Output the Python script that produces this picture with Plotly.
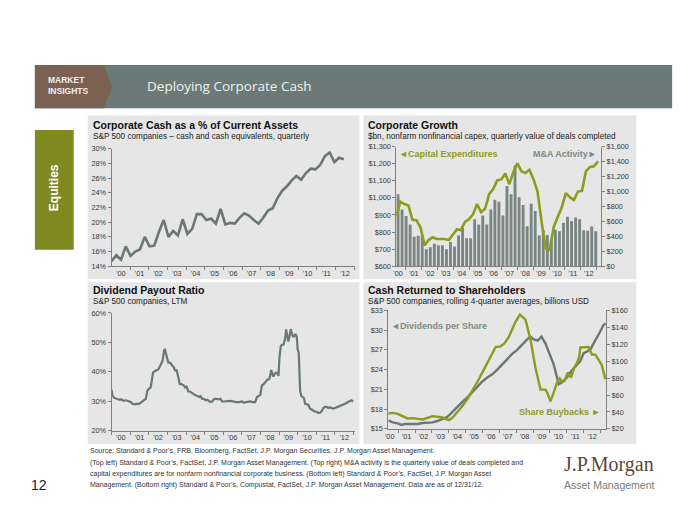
import plotly.graph_objects as go

# page has an 8px body margin: draw a 692x517 figure and map page pixels into it
OFF = 8
W, H = 700 - OFF, 525 - OFF
def px(x): return (x - OFF) / W
def py(y): return 1 - (y - OFF) / H

# ---------------- DATA ----------------
year_labels = ["'00", "'01", "'02", "'03", "'04", "'05", "'06", "'07", "'08", "'09", "'10", "'11", "'12"]

# Corporate cash as % of current assets (quarterly)
cash_pct = [14.7, 15.5, 14.9, 16.7, 15.4, 16.0, 16.3, 18.0, 16.7, 16.8,
            18.7, 20.3, 18.0, 18.8, 18.2, 20.4, 18.4, 19.1, 21.1, 21.1,
            20.3, 20.5, 19.8, 21.8, 19.7, 19.9, 19.8, 20.6, 21.2, 20.9,
            20.3, 19.8, 20.6, 21.6, 21.9, 23.3, 24.3, 24.9, 25.7, 26.3,
            25.8, 26.7, 27.3, 27.2, 27.8, 29.0, 29.5, 28.2, 28.8, 28.6]

# Capital expenditures, $bn (left axis)
capex = [892, 978, 964, 955, 872, 869, 826, 722, 753, 769,
         759, 761, 759, 753, 782, 815, 811, 859, 874, 903,
         964, 916, 936, 1022, 1051, 1103, 1108, 1143, 1080, 1152,
         1202, 1156, 1145, 1164, 1108, 1035, 859, 705, 696, 830,
         888, 945, 1028, 1003, 987, 1037, 1041, 1156, 1181, 1185, 1214]

# M&A activity, $bn (right axis)
ma_activity = [964, 758, 671, 557, 395, 408, 412, 228, 254, 302,
               281, 281, 228, 324, 263, 412, 513, 373, 373, 627,
               557, 680, 557, 758, 890, 864, 680, 1074, 964, 1346,
               921, 820, 535, 837, 737, 412, 482, 416, 359, 487,
               469, 583, 662, 605, 653, 627, 482, 473, 530, 469]

# Dividend payout ratio, LTM (years since Jan 2000, %)
payout_t = [0.00, 0.05, 0.14, 0.29, 0.41, 0.53, 0.64, 0.77, 0.89, 1.03,
            1.12, 1.25, 1.36, 1.48, 1.57, 1.66, 1.75, 1.84, 1.89, 1.93,
            2.01, 2.10, 2.16, 2.23, 2.34, 2.43, 2.51, 2.60, 2.67, 2.73,
            2.78, 2.82, 2.87, 2.92, 3.00, 3.05, 3.14, 3.21, 3.26, 3.35,
            3.41, 3.50, 3.57, 3.62, 3.67, 3.74, 3.83, 3.89, 3.94, 4.03,
            4.12, 4.19, 4.28, 4.37, 4.48, 4.56, 4.64, 4.71, 4.78, 4.87,
            4.96, 5.06, 5.14, 5.22, 5.31, 5.40, 5.46, 5.53, 5.63, 5.76,
            5.85, 5.94, 6.03, 6.21, 6.38, 6.56, 6.65, 6.83, 7.01, 7.10,
            7.24, 7.36, 7.45, 7.60, 7.72, 7.81, 7.90, 7.99, 8.08, 8.17,
            8.26, 8.35, 8.47, 8.52, 8.58, 8.65, 8.70, 8.76, 8.84, 8.92,
            8.97, 9.02, 9.09, 9.15, 9.24, 9.33, 9.38, 9.45, 9.50, 9.56,
            9.63, 9.68, 9.74, 9.81, 9.88, 9.95, 10.00, 10.06, 10.09, 10.13,
            10.20, 10.27, 10.34, 10.40, 10.49, 10.57, 10.66, 10.75, 10.84, 10.93,
            11.02, 11.11, 11.20, 11.29, 11.38, 11.47, 11.55, 11.64, 11.73, 11.82,
            11.91, 12.00, 12.09, 12.18, 12.27, 12.36, 12.45, 12.54, 12.63, 12.71,
            12.80, 12.89, 12.98]
payout_pct = [33.9, 31.9, 31.1, 30.8, 30.5, 30.6, 30.1, 30.3, 29.9, 29.7,
              29.1, 28.9, 29.1, 29.1, 29.5, 29.9, 30.6, 30.8, 32.5, 33.6,
              34.2, 34.7, 36.9, 39.7, 40.3, 40.6, 40.8, 41.9, 43.1, 43.6,
              45.3, 47.3, 47.5, 46.4, 44.7, 43.1, 43.1, 42.5, 42.5, 41.4,
              40.5, 40.5, 38.6, 36.4, 35.8, 35.8, 35.5, 35.3, 34.7, 34.9,
              33.3, 33.3, 33.0, 32.5, 32.1, 31.9, 31.7, 31.4, 31.7, 30.8,
              30.8, 30.3, 30.5, 30.0, 29.7, 29.9, 30.3, 30.8, 30.8, 30.6,
              30.8, 29.9, 29.9, 30.0, 30.1, 29.9, 29.7, 29.7, 29.9, 29.5,
              29.7, 29.7, 29.9, 29.7, 29.7, 31.4, 31.7, 32.1, 35.3, 35.8,
              36.4, 37.2, 37.5, 38.6, 40.6, 39.2, 38.4, 39.2, 39.7, 39.5,
              38.6, 44.7, 48.6, 49.2, 49.2, 51.4, 54.4, 52.0, 50.3, 52.0,
              54.5, 53.3, 52.0, 52.0, 52.8, 52.0, 47.5, 46.4, 39.2, 33.6,
              31.7, 31.4, 31.0, 29.1, 28.8, 28.8, 27.5, 27.2, 26.9, 26.4,
              26.4, 26.0, 26.1, 26.6, 27.7, 28.1, 28.1, 27.7, 27.9, 27.7,
              27.5, 27.7, 28.0, 28.2, 28.4, 28.6, 28.8, 29.1, 29.4, 29.7,
              30.0, 30.3, 29.9]

# Dividends per share (left axis, $), years since 2000
dps_t = [-0.08, 0.18, 0.47, 0.71, 0.91, 1.26, 1.65, 1.95, 2.24, 2.54,
         2.83, 3.13, 3.43, 3.72, 4.02, 4.31, 4.61, 4.90, 5.20, 5.49,
         5.79, 6.08, 6.38, 6.67, 6.97, 7.26, 7.56, 7.85, 8.15, 8.35,
         8.54, 8.78, 9.00, 9.23, 9.47, 9.72, 9.92, 10.02, 10.22, 10.51,
         10.71, 11.00, 11.30, 11.50, 11.69, 11.89, 12.09, 12.28, 12.48, 12.68, 12.81]
dps = [16.3, 16.0, 15.85, 15.6, 15.75, 15.75, 15.75, 15.9, 15.95, 16.0,
       16.2, 16.5, 16.85, 17.6, 18.4, 19.1, 19.8, 20.6, 21.3, 22.2,
       22.8, 23.3, 24.0, 24.8, 25.65, 26.4, 27.0, 27.8, 28.6, 29.0,
       28.6, 28.4, 29.0, 28.0, 26.5, 24.8, 22.8, 21.8, 22.1, 22.8,
       23.6, 24.4, 25.3, 26.5, 26.8, 27.0, 28.0, 28.8, 29.8, 30.8, 31.0]

# Share buybacks (right axis, $bn), years since 2000
buyback_t = [-0.08, 0.18, 0.47, 0.77, 1.06, 1.36, 1.65, 1.95, 2.24, 2.54,
             2.83, 3.13, 3.33, 3.52, 3.72, 4.02, 4.31, 4.61, 4.90, 5.20,
             5.49, 5.79, 6.08, 6.28, 6.57, 6.81, 7.07, 7.26, 7.46, 7.72,
             7.85, 8.05, 8.35, 8.64, 8.94, 9.23, 9.33, 9.53, 9.76, 9.92,
             10.08, 10.22, 10.37, 10.55, 10.75, 10.94, 11.10, 11.24, 11.30, 11.59,
             11.79, 11.99, 12.19, 12.38, 12.58, 12.78]
buybacks = [38.2, 38.9, 37.8, 35.5, 32.4, 32.8, 32.0, 31.2, 33.1, 35.1,
            34.3, 33.5, 31.6, 30.4, 33.1, 40.1, 47.1, 55.6, 65.2, 75.7,
            86.5, 98.1, 109.7, 116.7, 117.4, 121.3, 129.0, 136.8, 146.5, 155.0,
            153.1, 149.2, 125.2, 92.3, 66.4, 66.4, 63.3, 52.5, 65.2, 74.9,
            79.6, 75.7, 76.8, 86.5, 80.7, 92.3, 98.1, 105.1, 116.3, 116.3,
            116.7, 107.8, 107.8, 102.0, 95.0, 78.8]

# ---------------- STYLE ----------------
GREEN = "#8D9B1E"
GRAYLINE = "#6A7774"
GRAYTXT = "#7E8B88"
BAR = "#7A8683"
PANEL = "#E5E6E5"
AXIS = "#808080"
TICKFONT = dict(family="Liberation Sans, Arial", size=7.3, color="#3A3A3A")
FONT = "Liberation Sans, Arial"

fig = go.Figure()

# Panel 1: corporate cash
fig.add_trace(go.Scatter(x=list(range(len(cash_pct))), y=cash_pct, mode="lines",
                         line=dict(color=GRAYLINE, width=2.6), xaxis="x", yaxis="y",
                         hoverinfo="skip", showlegend=False))
# Panel 2: M&A bars (right axis, base) + capex line (left, overlay)
fig.add_trace(go.Bar(x=list(range(len(ma_activity))), y=ma_activity, marker=dict(color=BAR, line=dict(width=0)),
                     width=0.72, xaxis="x2", yaxis="y2", hoverinfo="skip", showlegend=False))
fig.add_trace(go.Scatter(x=[j - 0.42 for j in range(len(capex))], y=capex, mode="lines",
                         line=dict(color=GREEN, width=2.6), xaxis="x2", yaxis="y3",
                         hoverinfo="skip", showlegend=False))
# Panel 3: payout ratio
fig.add_trace(go.Scatter(x=payout_t, y=payout_pct, mode="lines",
                         line=dict(color=GRAYLINE, width=2.2), xaxis="x3", yaxis="y4",
                         hoverinfo="skip", showlegend=False))
# Panel 4: dividends (left) + buybacks (right overlay)
fig.add_trace(go.Scatter(x=dps_t, y=dps, mode="lines",
                         line=dict(color=GRAYLINE, width=2.4), xaxis="x4", yaxis="y5",
                         hoverinfo="skip", showlegend=False))
fig.add_trace(go.Scatter(x=buyback_t, y=buybacks, mode="lines",
                         line=dict(color=GREEN, width=2.4), xaxis="x4", yaxis="y6",
                         hoverinfo="skip", showlegend=False))

def xax(dom, rng, tv, anchor, minor0, mdt):
    return dict(domain=dom, range=rng, tickmode="array", tickvals=tv, ticktext=year_labels,
                showline=True, linecolor=AXIS, linewidth=1, ticks="", showgrid=False,
                zeroline=False, tickfont=TICKFONT, anchor=anchor, fixedrange=True,
                minor=dict(ticks="outside", ticklen=3, tickcolor=AXIS, tick0=minor0, dtick=mdt, showgrid=False))

def yax(dom, rng, tv, tt, anchor, side="left", overlay=None):
    d = dict(domain=dom, range=rng, tickmode="array", tickvals=tv, ticktext=tt,
             showline=True, linecolor=AXIS, linewidth=1, ticks="outside", ticklen=3,
             tickcolor=AXIS, showgrid=False, zeroline=False, tickfont=TICKFONT,
             anchor=anchor, side=side, fixedrange=True)
    if overlay:
        d["overlaying"] = overlay
    return d

step1 = 3.94
fig.update_layout(
    xaxis=xax([px(109), px(353)], [0, 51.25], [1.95 + step1 * k for k in range(13)], "y", 1.95 - step1 / 2, step1),
    yaxis=yax([py(266.7), py(147.3)], [14, 30], list(range(14, 31, 2)), [f"{v}%" for v in range(14, 31, 2)], "x"),
    xaxis2=xax([px(395), px(600.7)], [-0.42, 50.33], [3.94 * k for k in range(13)], "y2", -1.97, 3.94),
    yaxis2=yax([py(266.7), py(145)], [0, 1600], list(range(0, 1601, 200)),
               [f"${v:,}" for v in range(0, 1601, 200)], "x2", side="right"),
    yaxis3=yax([py(266.7), py(145)], [600, 1300], list(range(600, 1301, 100)),
               [f"${v:,}" for v in range(600, 1301, 100)], "x2", side="left", overlay="y2"),
    xaxis3=xax([px(109), px(353.3)], [0, 13.07], [k + 0.5 for k in range(13)], "y4", 0, 1),
    yaxis4=yax([py(434), py(314.3)], [20, 60], list(range(20, 61, 10)), [f"{v}%" for v in range(20, 61, 10)], "x3"),
    xaxis4=xax([px(387), px(605.7)], [-0.08, 12.83], list(range(13)), "y5", -0.5, 1),
    yaxis5=yax([py(432.3), py(311.7)], [15, 33], list(range(15, 34, 3)), [f"${v}" for v in range(15, 34, 3)], "x4"),
    yaxis6=yax([py(432.3), py(311.7)], [20, 160], list(range(20, 161, 20)), [f"${v}" for v in range(20, 161, 20)],
               "x4", side="right", overlay="y5"),
    bargap=0.25,
)

shapes = []
def rect(x0, y0, x1, y1, color, layer="below"):
    shapes.append(dict(type="rect", xref="paper", yref="paper", x0=px(x0), x1=px(x1), y0=py(y1), y1=py(y0),
                       fillcolor=color, line=dict(width=0), layer=layer))

# header
rect(32, 62, 672, 106, "#6B7A77")
shapes.append(dict(type="path", xref="paper", yref="paper",
                   path=f"M{px(32)},{py(62)} L{px(101)},{py(62)} L{px(110)},{py(84)} L{px(101)},{py(106)} L{px(32)},{py(106)} Z",
                   fillcolor="#7B6152", line=dict(width=0), layer="below"))
# equities tab
rect(32, 128, 71, 250, "#7F8B21")
# panels
rect(85, 113, 358, 280, PANEL)
rect(362, 113, 636, 280, PANEL)
rect(85, 283, 358, 448, PANEL)
rect(362, 283, 636, 448, PANEL)

ann = []
def text(x, y, s, size, color="#111", bold=False, xanchor="left", family=FONT, angle=0, yanchor="middle"):
    ann.append(dict(x=px(x), y=py(y), xref="paper", yref="paper", xanchor=xanchor, yanchor=yanchor,
                    text=f"<b>{s}</b>" if bold else s, showarrow=False, textangle=angle,
                    font=dict(family=family, size=size, color=color)))

text(43, 77, "MARKET", 8.5, "#F4EFEA", bold=True)
text(43, 88, "INSIGHTS", 8.5, "#F4EFEA", bold=True)
text(143, 83, "Deploying Corporate Cash", 13.5, "#EEF2F0", family="Open Sans, Lato")
text(51.5, 187, "Equities", 12, "#FFFFFF", bold=True, xanchor="center", angle=-90)

text(88, 123, "Corporate Cash as a % of Current Assets", 10.5, bold=True)
text(88, 135, "S&amp;P 500 companies – cash and cash equivalents, quarterly", 8.2, "#222")
text(365, 123, "Corporate Growth", 10.5, bold=True)
text(365, 135, "$bn, nonfarm nonfinancial capex, quarterly value of deals completed", 8.2, "#222")
text(88, 291, "Dividend Payout Ratio", 10.5, bold=True)
text(88, 303, "S&amp;P 500 companies, LTM", 8.2, "#222")
text(365, 291, "Cash Returned to Shareholders", 10.5, bold=True)
text(365, 303, "S&amp;P 500 companies, rolling 4-quarter averages, billions USD", 8.2, "#222")

text(396, 152.5, "◄Capital Expenditures", 9, GREEN, bold=True)
text(599, 152.5, "M&amp;A Activity►", 9, GRAYTXT, bold=True, xanchor="right")
text(388, 327.5, "◄Dividends per Share", 9, GRAYTXT, bold=True)
text(602, 415, "Share Buybacks ►", 9, GREEN, bold=True, xanchor="right")

text(85, 455, "Source: Standard &amp; Poor’s, FRB, Bloomberg, FactSet, J.P. Morgan Securities, J.P. Morgan Asset Management.", 7, "#333")
text(85, 467, "(Top left) Standard &amp; Poor’s, FactSet, J.P. Morgan Asset Management. (Top right) M&amp;A activity is the quarterly value of deals completed and", 7, "#333")
text(85, 478, "capital expenditures are for nonfarm nonfinancial corporate business. (Bottom left) Standard &amp; Poor’s, FactSet, J.P. Morgan Asset", 7, "#333")
text(85, 489, "Management. (Bottom right) Standard &amp; Poor’s, Compustat, FactSet, J.P. Morgan Asset Management. Data are as of 12/31/12.", 7, "#333")
text(26, 489, "12", 14, "#222")
text(609, 469, "J.P.Morgan", 20, "#5E4636", xanchor="center", family="Liberation Serif, Times New Roman")
text(609, 489, "Asset Management", 10.5, "#7A7A7A", xanchor="center")

fig.update_layout(
    width=W, height=H, margin=dict(l=0, r=0, t=0, b=0),
    paper_bgcolor="white", plot_bgcolor="rgba(0,0,0,0)",
    shapes=shapes, annotations=ann, showlegend=False,
    font=dict(family=FONT),
)

fig.write_html("out.html")
